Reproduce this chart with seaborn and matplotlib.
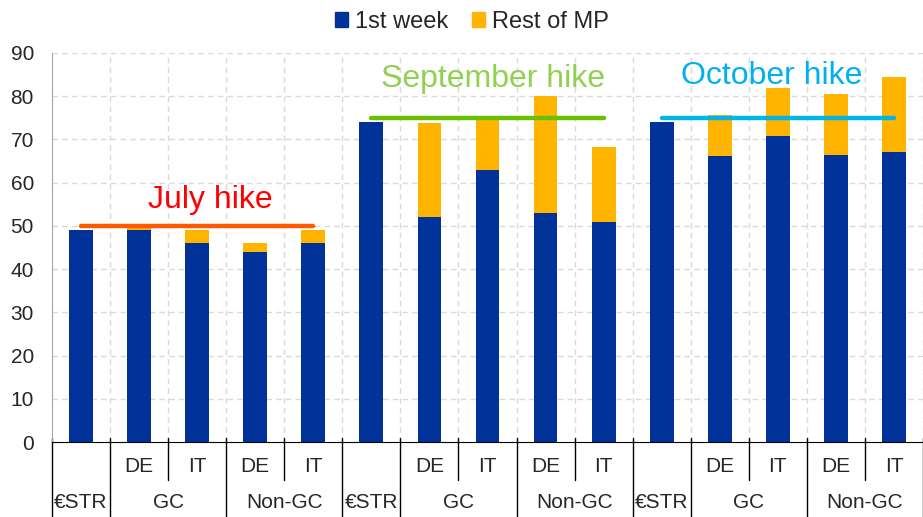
import pandas as pd
import matplotlib.pyplot as plt
import seaborn as sns
from matplotlib.patches import Patch

# values (bp)
countries = ['', 'DE', 'IT', 'DE', 'IT'] * 3
segments = ['€STR', 'GC', 'GC', 'Non-GC', 'Non-GC'] * 3
first_week = [49, 49, 46, 44, 46,
              74, 52, 63, 53, 51,
              74, 66.1, 70.7, 66.4, 67.2]
rest_of_mp = [0, 0.6, 3, 2, 3,
              0, 21.8, 12, 27, 17.2,
              0, 9.5, 11.2, 14.1, 17.3]
hikes = ['July hike', 'September hike', 'October hike']
hike_levels = [50, 75, 75]
hike_line_colors = ['#FF5A00', '#6CBE00', '#00B4E6']
hike_text_colors = ['#FF0000', '#92D050', '#00B0F0']

df = pd.DataFrame({'pos': range(len(first_week)),
                   'first': first_week,
                   'rest': rest_of_mp})
df['total'] = df['first'] + df['rest']

blue = '#003299'
orange = '#FFB400'
fs = 15

sns.set_style('white')
plt.rcParams['font.family'] = ['Liberation Sans', 'DejaVu Sans']

fig = plt.figure(figsize=(9.23, 5.17), dpi=100)
ax = fig.add_axes([52 / 923, 1 - 442 / 517, 1 - 52 / 923, (442 - 53) / 517])

sns.barplot(data=df, x='pos', y='total', color=orange, width=0.41,
            saturation=1, linewidth=0, ax=ax)
sns.barplot(data=df, x='pos', y='first', color=blue, width=0.41,
            saturation=1, linewidth=0, ax=ax)

ax.set_xlim(-0.5, 14.5)
ax.set_ylim(0, 90)
ax.set_yticks(range(0, 100, 10))
ax.set_xticks([])
ax.set_xlabel('')
ax.set_ylabel('')
ax.tick_params(axis='y', length=0, pad=13, labelsize=fs)

# grid
for y in range(10, 100, 10):
    ax.axhline(y, color='#D9D9D9', lw=1, ls=(0, (4, 3)), zorder=0)
for k in range(1, 16):
    ax.axvline(k - 0.5, color='#D9D9D9', lw=1, ls=(0, (4, 3)), zorder=0)

for s in ['top', 'right']:
    ax.spines[s].set_visible(False)
ax.spines['left'].set_color('#A6A6A6')
ax.spines['bottom'].set_color('black')

# hike lines and labels
label_pos = [(2.22, 56.1), (7.09, 83.9), (11.89, 84.6)]
for i, name in enumerate(hikes):
    x0 = i * 5
    ax.plot([x0, x0 + 4], [hike_levels[i]] * 2, color=hike_line_colors[i],
            lw=3.2, solid_capstyle='round', zorder=5)
    ax.text(label_pos[i][0], label_pos[i][1], name, color=hike_text_colors[i],
            fontsize=23, ha='center', va='center')

# multi-level x axis
trans = ax.get_xaxis_transform()
ah = 389.0
for k in range(16):
    b = k - 0.5
    short = (k % 5) in (2, 4)
    low = -38 / ah if short else -76 / ah
    ax.plot([b, b], [4 / ah, low], color='black', lw=1, transform=trans,
            clip_on=False)
for i in range(len(countries)):
    if countries[i]:
        ax.text(i, -25 / ah, countries[i], transform=trans, ha='center',
                va='center', fontsize=fs)
for g in range(3):
    base = g * 5
    ax.text(base, -61 / ah, '€STR', transform=trans, ha='center',
            va='center', fontsize=fs)
    ax.text(base + 1.5, -61 / ah, 'GC', transform=trans, ha='center',
            va='center', fontsize=fs)
    ax.text(base + 3.5, -61 / ah, 'Non-GC', transform=trans, ha='center',
            va='center', fontsize=fs)

handles = [Patch(color=blue, label='1st week'),
           Patch(color=orange, label='Rest of MP')]
fig.legend(handles=handles, loc='upper center', bbox_to_anchor=(472 / 923, 1.02),
           ncol=2, frameon=False, fontsize=17, handlelength=0.55,
           handleheight=0.55, handletextpad=0.3, columnspacing=1.0)

fig.savefig('out.png', dpi=100)
